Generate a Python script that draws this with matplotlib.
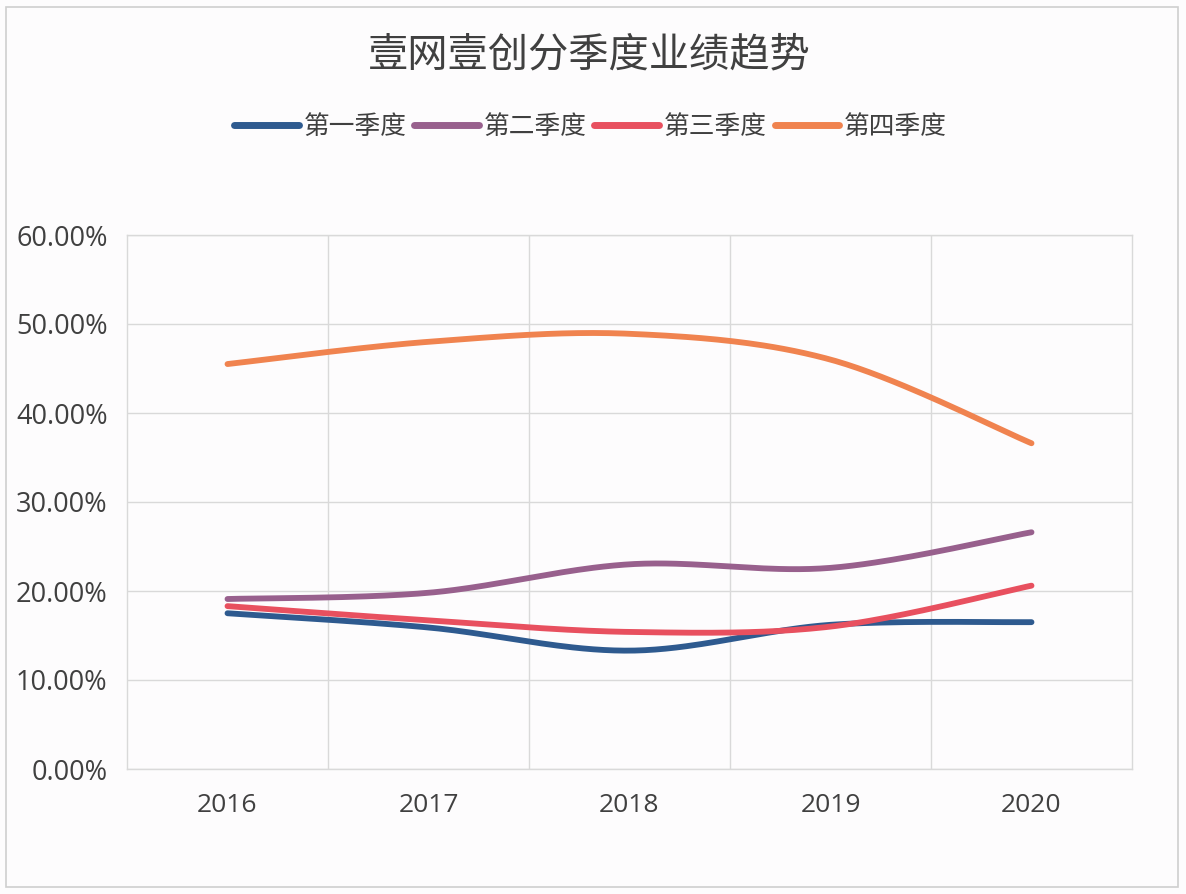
import matplotlib
matplotlib.use("Agg")
import matplotlib.pyplot as plt
import numpy as np
from matplotlib.patches import Rectangle
from matplotlib.ticker import FuncFormatter

plt.rcParams['font.family'] = ['Noto Sans CJK SC', 'DejaVu Sans']

# 数据（从图上读出的估计值，单位 %）
years = ['2016', '2017', '2018', '2019', '2020']
q1 = [17.5, 15.9, 13.3, 16.2, 16.5]
q2 = [19.1, 19.8, 23.0, 22.6, 26.6]
q3 = [18.3, 16.7, 15.4, 16.0, 20.6]
q4 = [45.5, 48.0, 48.9, 46.0, 36.6]
names = ['第一季度', '第二季度', '第三季度', '第四季度']
colors = ['#2E5A8F', '#98608D', '#E8505F', '#F0834F']

txt_color = '#404040'
grid_color = '#D9D9D9'


# Excel 风格的平滑线（Catmull-Rom 转三次贝塞尔）
def smooth(xs, ys, n=40):
    x = np.asarray(xs, float)
    y = np.asarray(ys, float)
    px = np.concatenate(([x[0]], x, [x[-1]]))
    py = np.concatenate(([y[0]], y, [y[-1]]))
    outx, outy = [], []
    t = np.linspace(0, 1, n)
    for i in range(1, len(px) - 2):
        p0 = np.array([px[i], py[i]])
        p3 = np.array([px[i + 1], py[i + 1]])
        c1 = p0 + (np.array([px[i + 1], py[i + 1]]) - np.array([px[i - 1], py[i - 1]])) / 6
        c2 = p3 - (np.array([px[i + 2], py[i + 2]]) - np.array([px[i], py[i]])) / 6
        b = ((1 - t) ** 3)[:, None] * p0 + (3 * (1 - t) ** 2 * t)[:, None] * c1 \
            + (3 * (1 - t) * t ** 2)[:, None] * c2 + (t ** 3)[:, None] * p3
        outx.extend(b[:, 0])
        outy.extend(b[:, 1])
    return np.array(outx), np.array(outy)


fig = plt.figure(figsize=(11.86, 8.94), dpi=100, facecolor='#FDFCFD')
fig.patches.append(Rectangle((6 / 1186, 7 / 894), 1172 / 1186, 880 / 894,
                             transform=fig.transFigure, fill=False,
                             edgecolor='#CFCFCF', linewidth=1.2))

ax = fig.add_axes([127 / 1186, 1 - 769 / 894, 1005 / 1186, 534 / 894])
ax.set_facecolor('#FDFCFD')

xs = np.arange(len(years))
for vals, name, c in zip([q1, q2, q3, q4], names, colors):
    sx, sy = smooth(xs, vals)
    ax.plot(sx, sy, color=c, linewidth=4.2, solid_capstyle='round', label=name, zorder=3)

ax.set_xlim(-0.5, len(years) - 0.5)
ax.set_ylim(0, 60)
ax.set_yticks(np.arange(0, 61, 10))
ax.yaxis.set_major_formatter(FuncFormatter(lambda v, p: '%.2f%%' % v))
ax.set_xticks(xs)
ax.set_xticklabels(years)
ax.set_xticks(np.arange(0.5, len(years) - 1, 1), minor=True)

ax.grid(axis='y', which='major', color=grid_color, linewidth=1)
ax.grid(axis='x', which='minor', color=grid_color, linewidth=1)
ax.set_axisbelow(True)
ax.tick_params(which='both', length=0)
ax.tick_params(axis='y', pad=14, labelsize=19.5, labelcolor=txt_color)
ax.tick_params(axis='x', pad=17, labelsize=19, labelcolor=txt_color)
for lab in ax.get_xticklabels() + ax.get_yticklabels():
    lab.set_family(['Open Sans', 'DejaVu Sans'])
for s in ax.spines.values():
    s.set_color(grid_color)
    s.set_linewidth(1)

fig.text(0.497, 1 - 55 / 894, '壹网壹创分季度业绩趋势', ha='center', va='center',
         fontsize=29, color=txt_color, fontweight='light')

leg = fig.legend(loc='center', bbox_to_anchor=(0.498, 1 - 127 / 894), ncol=4,
                 frameon=False, fontsize=18.5, handlelength=2.5,
                 handletextpad=0.2, columnspacing=0.3)
for t in leg.get_texts():
    t.set_color(txt_color)
for h in leg.get_lines():
    h.set_linewidth(5)

fig.savefig('out.png', dpi=100, facecolor=fig.get_facecolor())
